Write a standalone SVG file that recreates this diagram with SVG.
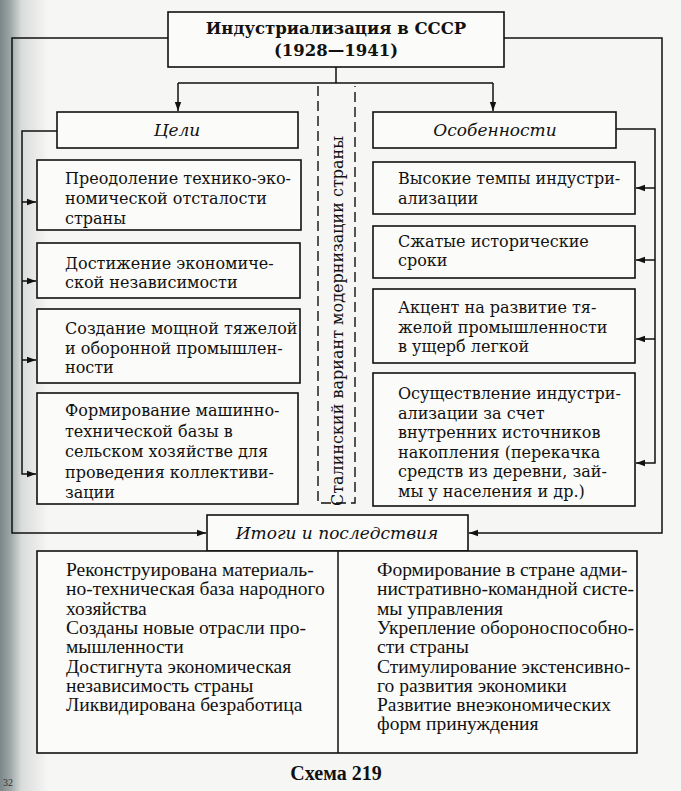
<svg xmlns="http://www.w3.org/2000/svg" width="681" height="791" viewBox="0 0 681 791">
<defs>
<linearGradient id="strip" x1="0" y1="0" x2="1" y2="0">
<stop offset="0" stop-color="#7b8788"/>
<stop offset="0.2" stop-color="#9aa4a4"/>
<stop offset="0.45" stop-color="#d9dcdb"/>
<stop offset="1" stop-color="#f6f6f4"/>
</linearGradient>
<marker id="ah" markerWidth="10" markerHeight="8" refX="9" refY="4" orient="auto" markerUnits="userSpaceOnUse">
<path d="M0,0.8 L9,4 L0,7.2 Z" fill="#111"/>
</marker>
<style>
.box{fill:#fbfbf9;stroke:#111;stroke-width:1.6}
.ln{fill:none;stroke:#111;stroke-width:1.5}
.dash{fill:none;stroke:#111;stroke-width:1.4;stroke-dasharray:10 5}
.t{font-family:"DejaVu Serif","Liberation Serif",serif;font-size:16px;fill:#111}
.b{font-family:"Liberation Serif","DejaVu Serif",serif;font-size:19.5px;fill:#111}
.h{font-family:"DejaVu Serif","Liberation Serif",serif;font-size:16.5px;font-weight:bold;fill:#111;text-anchor:middle}
.i{font-family:"DejaVu Serif","Liberation Serif",serif;font-size:17px;font-style:italic;fill:#111;text-anchor:middle}
</style>
</defs>
<rect x="0" y="0" width="681" height="791" fill="#f6f6f4"/>
<rect x="0" y="0" width="48" height="791" fill="url(#strip)"/>

<g id="connectors">
<path class="ln" d="M168,38 H12 V533 H206" marker-end="url(#ah)"/>
<path class="ln" d="M504,38 H662 V533 H469" marker-end="url(#ah)"/>
<path class="ln" d="M336,67 V83 M178,83 H493"/>
<path class="ln" d="M178,83 V111" marker-end="url(#ah)"/>
<path class="ln" d="M493,83 V111" marker-end="url(#ah)"/>
<path class="ln" d="M57,131 H22 V474 H36" marker-end="url(#ah)"/>
<path class="ln" d="M22,202 H36" marker-end="url(#ah)"/>
<path class="ln" d="M22,281 H36" marker-end="url(#ah)"/>
<path class="ln" d="M22,360 H36" marker-end="url(#ah)"/>
<path class="ln" d="M616,129 H655 V463 H636" marker-end="url(#ah)"/>
<path class="ln" d="M655,188 H636" marker-end="url(#ah)"/>
<path class="ln" d="M655,260 H636" marker-end="url(#ah)"/>
<path class="ln" d="M655,339 H636" marker-end="url(#ah)"/>
</g>

<g id="stalin-variant">
<path class="dash" d="M318,86 V503 H355 V86"/>
<text class="t" text-anchor="middle" transform="translate(343,321) rotate(-90)">Сталинский вариант модернизации страны</text>
</g>

<g id="title">
<rect class="box" x="168" y="12" width="336" height="55"/>
<text class="h" x="336" y="34">Индустриализация в СССР</text>
<text class="h" x="336" y="56">(1928—1941)</text>
</g>

<g id="goals">
<rect class="box" x="57" y="112" width="241" height="36"/>
<text class="i" x="177" y="136">Цели</text>
</g>

<g id="features">
<rect class="box" x="373" y="112" width="243" height="36"/>
<text class="i" x="495" y="136">Особенности</text>
</g>

<g id="goal1">
<rect class="box" x="37" y="160" width="264" height="70"/>
<text class="t" x="65" y="184">Преодоление технико-эко-</text>
<text class="t" x="65" y="204">номической отсталости</text>
<text class="t" x="65" y="224">страны</text>
</g>
<g id="goal2">
<rect class="box" x="37" y="243" width="263" height="55"/>
<text class="t" x="65" y="269">Достижение экономиче-</text>
<text class="t" x="65" y="288">ской независимости</text>
</g>
<g id="goal3">
<rect class="box" x="37" y="309" width="263" height="74"/>
<text class="t" x="65" y="334">Создание мощной тяжелой</text>
<text class="t" x="65" y="354">и оборонной промышлен-</text>
<text class="t" x="65" y="373">ности</text>
</g>
<g id="goal4">
<rect class="box" x="37" y="393" width="261" height="111"/>
<text class="t" x="65" y="416">Формирование машинно-</text>
<text class="t" x="65" y="436.5">технической базы в</text>
<text class="t" x="65" y="457">сельском хозяйстве для</text>
<text class="t" x="65" y="477.5">проведения коллективи-</text>
<text class="t" x="65" y="498">зации</text>
</g>

<g id="feature1">
<rect class="box" x="373" y="162" width="262" height="52"/>
<text class="t" x="398" y="184">Высокие темпы индустри-</text>
<text class="t" x="398" y="204">ализации</text>
</g>
<g id="feature2">
<rect class="box" x="373" y="226" width="262" height="52"/>
<text class="t" x="398" y="247">Сжатые исторические</text>
<text class="t" x="398" y="266">сроки</text>
</g>
<g id="feature3">
<rect class="box" x="373" y="289" width="262" height="74"/>
<text class="t" x="398" y="313">Акцент на развитие тя-</text>
<text class="t" x="398" y="332.5">желой промышленности</text>
<text class="t" x="398" y="352">в ущерб легкой</text>
</g>
<g id="feature4">
<rect class="box" x="373" y="373" width="262" height="133"/>
<text class="t" x="398" y="399">Осуществление индустри-</text>
<text class="t" x="398" y="418.5">ализации за счет</text>
<text class="t" x="398" y="438">внутренних источников</text>
<text class="t" x="398" y="457.5">накопления (перекачка</text>
<text class="t" x="398" y="477">средств из деревни, зай-</text>
<text class="t" x="398" y="497">мы у населения и др.)</text>
</g>

<g id="results">
<rect class="box" x="207" y="515" width="261" height="36"/>
<text class="i" x="337" y="539">Итоги и последствия</text>
</g>

<g id="results-body">
<rect class="box" x="37" y="551" width="600" height="202"/>
<path class="ln" d="M338,551 V753"/>
<text class="b" x="66" y="576">Реконструирована материаль-</text>
<text class="b" x="66" y="595.3">но-техническая база народного</text>
<text class="b" x="66" y="614.6">хозяйства</text>
<text class="b" x="66" y="634">Созданы новые отрасли про-</text>
<text class="b" x="66" y="653.2">мышленности</text>
<text class="b" x="66" y="672.5">Достигнута экономическая</text>
<text class="b" x="66" y="691.8">независимость страны</text>
<text class="b" x="66" y="711">Ликвидирована безработица</text>
<text class="b" x="377" y="576">Формирование в стране адми-</text>
<text class="b" x="377" y="595.3">нистративно-командной систе-</text>
<text class="b" x="377" y="614.6">мы управления</text>
<text class="b" x="377" y="634">Укрепление обороноспособно-</text>
<text class="b" x="377" y="653.2">сти страны</text>
<text class="b" x="377" y="672.5">Стимулирование экстенсивно-</text>
<text class="b" x="377" y="691.8">го развития экономики</text>
<text class="b" x="377" y="711">Развитие внеэкономических</text>
<text class="b" x="377" y="730.3">форм принуждения</text>
</g>

<text x="336" y="780" text-anchor="middle" font-family="Liberation Serif, serif" font-size="20" font-weight="bold" fill="#111">Схема 219</text>
<text x="3" y="786" font-family="Liberation Serif, serif" font-size="10" fill="#333">32</text>
</svg>
